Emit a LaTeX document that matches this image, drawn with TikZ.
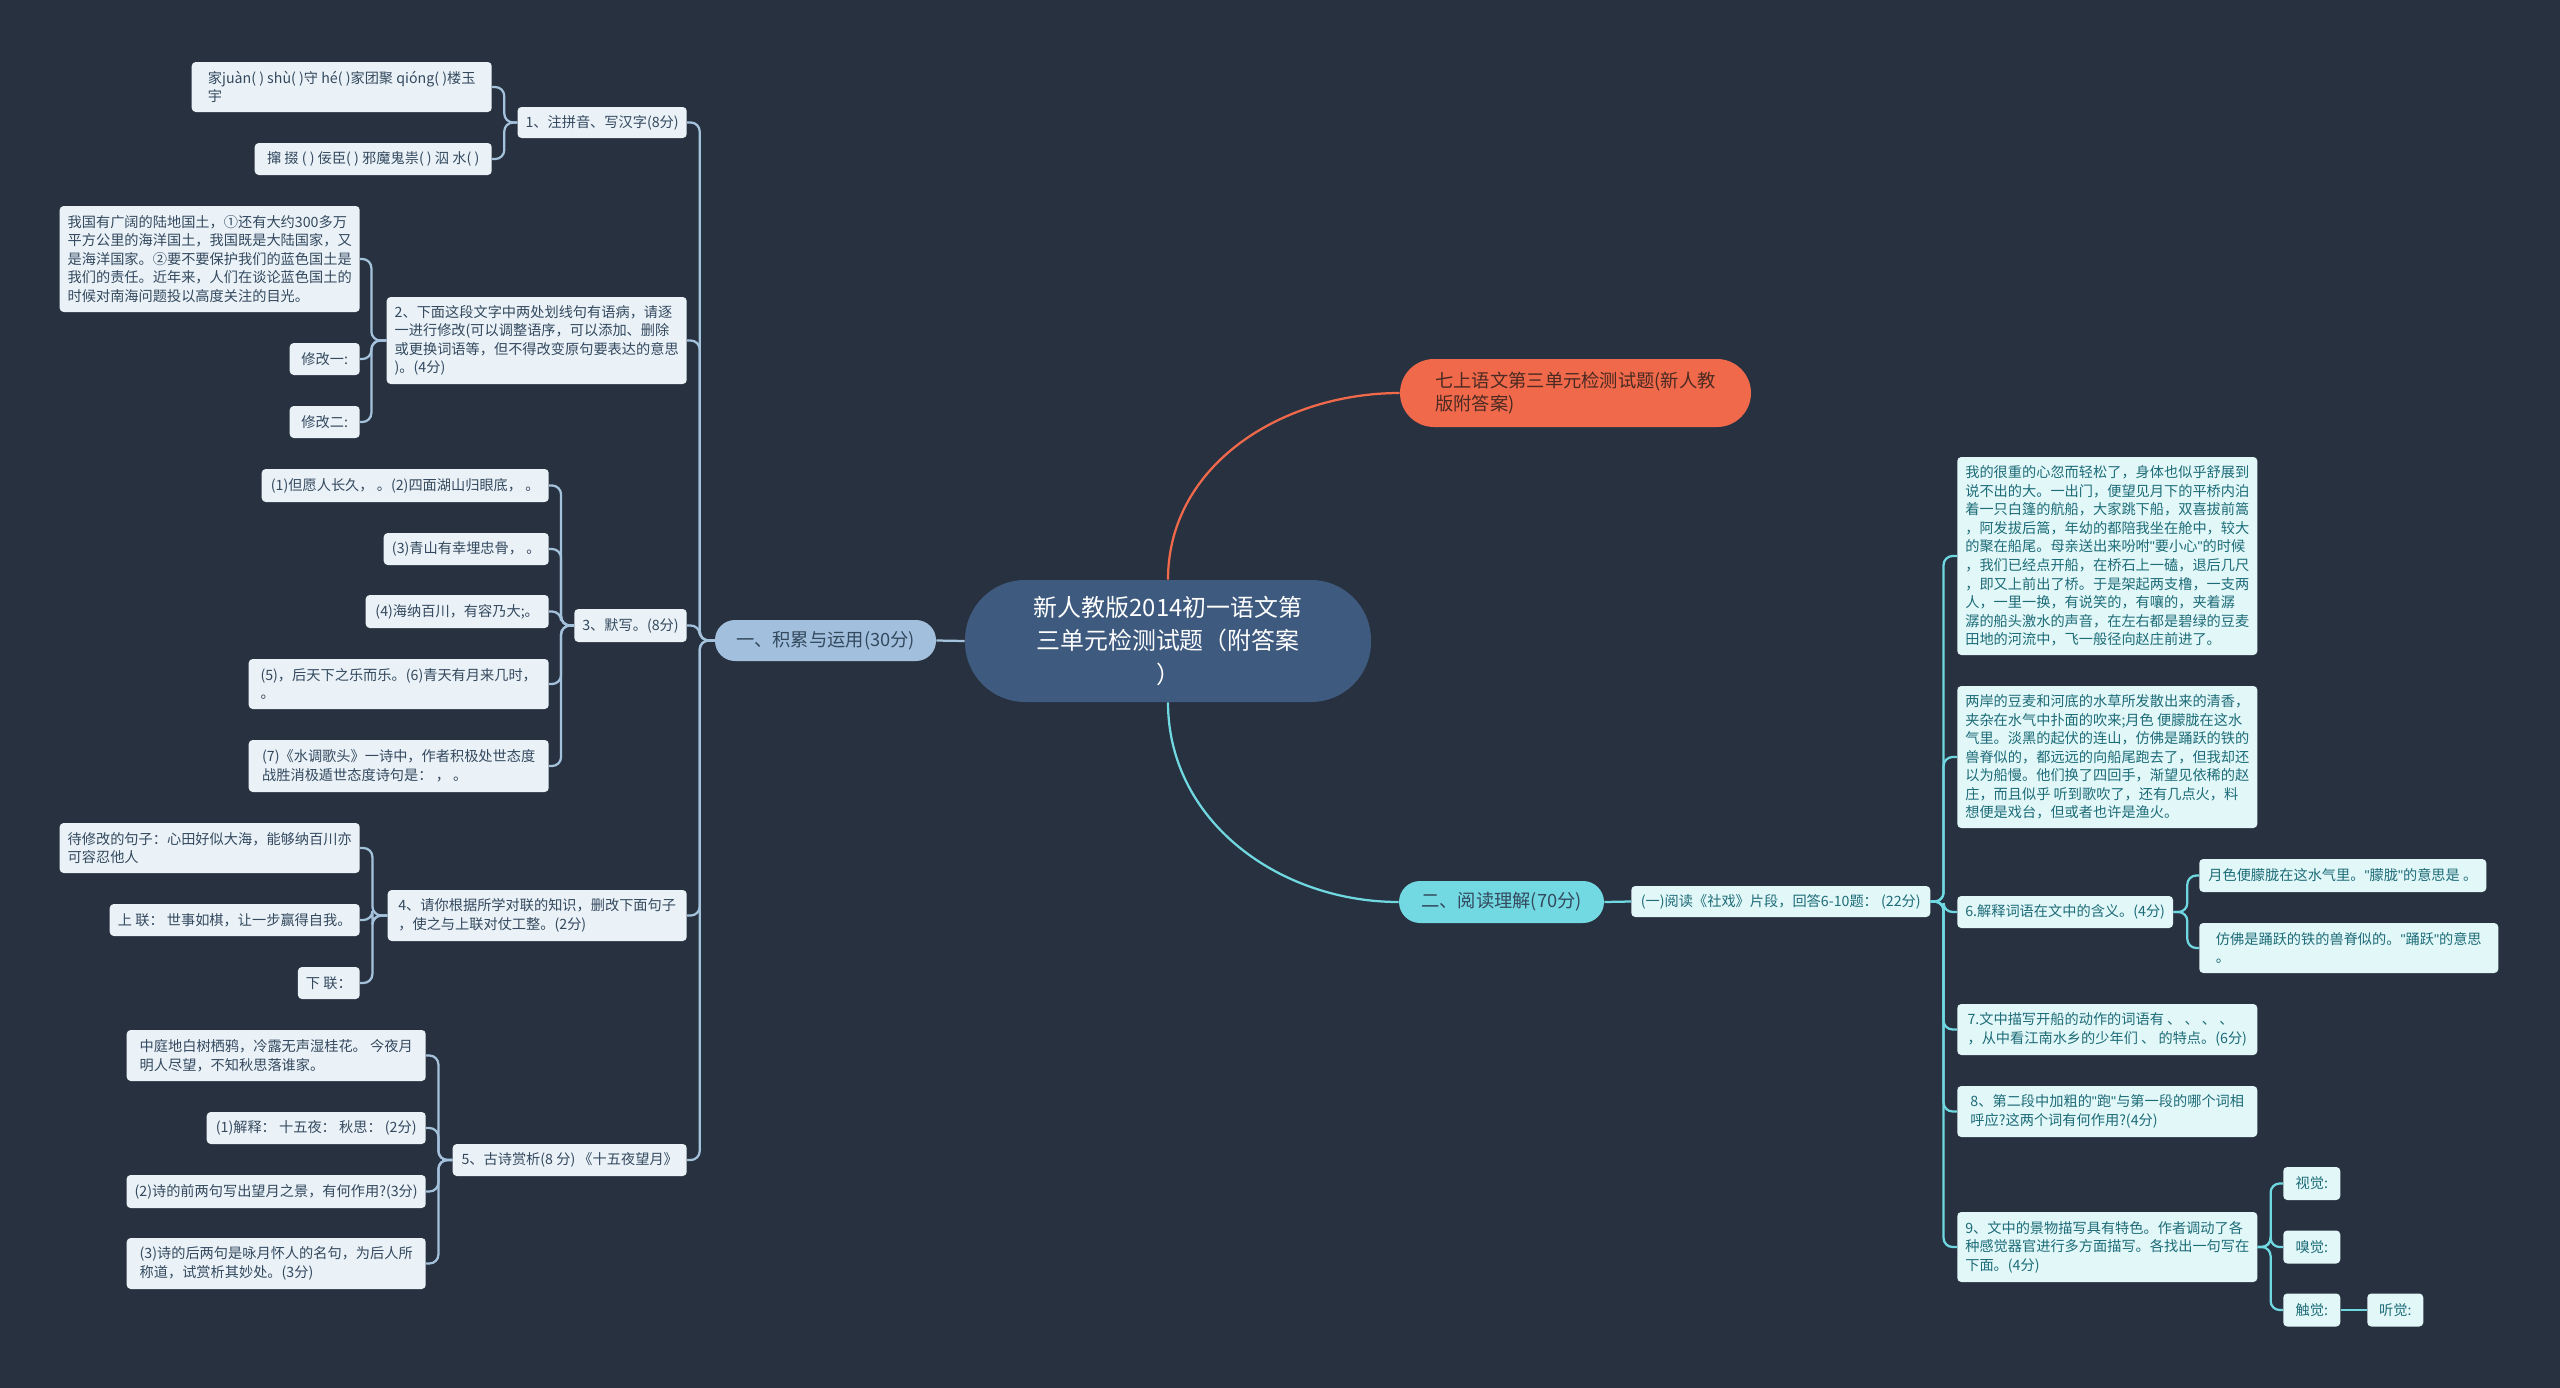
\documentclass[tikz,border=0pt]{standalone}
\usepackage{fontspec}
\setmainfont{Noto Sans CJK SC}
\newfontfamily\quotefont{Liberation Sans}
\newcommand\dq{{\quotefont"}}

\definecolor{bgcol}{HTML}{283140}
\definecolor{lfill}{HTML}{EAF2F8}
\definecolor{ltext}{HTML}{34495E}
\definecolor{lline}{HTML}{A4C2DC}
\definecolor{rfill}{HTML}{E2F7F8}
\definecolor{rtext}{HTML}{1D6C78}
\definecolor{rline}{HTML}{6FD8E0}
\definecolor{rootfill}{HTML}{3E5A7F}
\definecolor{orangefill}{HTML}{F0694A}
\definecolor{orangetext}{HTML}{4A2A22}
\definecolor{bonefill}{HTML}{A2C0DD}
\definecolor{btwofill}{HTML}{72D9E2}

\newdimen\pxu \pxu=0.025cm

\begin{document}
\begin{tikzpicture}[x=0.025cm, y=-0.025cm,
    leaf/.style={fill=lfill, text=ltext, rounded corners=4\pxu, inner xsep=8\pxu, inner ysep=3\pxu, align=left, font=\fontsize{10.1}{13.2}\selectfont},
    lleaf/.style={leaf, anchor=east},
    rleaf/.style={leaf, fill=rfill, text=rtext, anchor=west},
    pill/.style={inner xsep=10\pxu, inner ysep=3\pxu, align=left, font=\fontsize{13}{17}\selectfont},
    llink/.style={draw=lline, line width=1.6pt, rounded corners=9\pxu},
    rlink/.style={draw=rline, line width=1.6pt, rounded corners=9\pxu}
]
\fill[bgcol] (0,0) rectangle (2560,1388);
\useasboundingbox (0,0) rectangle (2560,1388);

% Root and main branches
\node[fill=rootfill, text=white, rounded corners=60\pxu, minimum width=406\pxu, minimum height=122\pxu, align=center, font=\fontsize{17}{23.5}\selectfont] (root) at (1168,641) {新人教版2014初一语文第\\三单元检测试题（附答案\\）};
\node[pill, fill=orangefill, text=orangetext, rounded corners=34\pxu, minimum width=351\pxu, minimum height=68\pxu] (title) at (1575.5,393) {七上语文第三单元检测试题(新人教\\版附答案)};
\node[pill, fill=bonefill, text=ltext, rounded corners=20\pxu, minimum width=221\pxu, minimum height=41\pxu] (b1) at (825.5,640.5) {一、积累与运用(30分)};
\node[pill, fill=btwofill, text=ltext, rounded corners=21\pxu, minimum width=205\pxu, minimum height=42\pxu] (b2) at (1501.5,902) {二、阅读理解(70分)};

% Left side: questions 1-5
\node[lleaf, minimum width=169\pxu, minimum height=31\pxu] (q1) at (687,122.5) {1、注拼音、写汉字(8分)};
\node[lleaf, minimum width=300\pxu, minimum height=50\pxu] (q1a) at (492,87) {家juàn( ) shù( )守 hé( )家团聚 qióng( )楼玉\\宇};
\node[lleaf, minimum width=237\pxu, minimum height=32\pxu] (q1b) at (492,159) {撺 掇 ( ) 佞臣( ) 邪魔鬼祟( ) 泅 水( )};

\node[lleaf, minimum width=299\pxu, minimum height=87\pxu] (q2) at (687,340.5) {2、下面这段文字中两处划线句有语病，请逐\\一进行修改(可以调整语序，可以添加、删除\\或更换词语等，但不得改变原句要表达的意思\\)。(4分)};
\node[lleaf, minimum width=298\pxu, minimum height=106\pxu] (q2a) at (360,259) {我国有广阔的陆地国土，①还有大约300多万\\平方公里的海洋国土，我国既是大陆国家，又\\是海洋国家。②要不要保护我们的蓝色国土是\\我们的责任。近年来，人们在谈论蓝色国土的\\时候对南海问题投以高度关注的目光。};
\node[lleaf, minimum width=70\pxu, minimum height=32\pxu] (q2b) at (360,359) {修改一:};
\node[lleaf, minimum width=70\pxu, minimum height=32\pxu] (q2c) at (360,422) {修改二:};

\node[lleaf, minimum width=112\pxu, minimum height=33\pxu] (q3) at (687,625.5) {3、默写。(8分)};
\node[lleaf, minimum width=287\pxu, minimum height=33\pxu] (q3a) at (549,485.5) {(1)但愿人长久， 。(2)四面湖山归眼底， 。};
\node[lleaf, minimum width=165\pxu, minimum height=32\pxu] (q3b) at (549,549) {(3)青山有幸埋忠骨， 。};
\node[lleaf, minimum width=183\pxu, minimum height=33\pxu] (q3c) at (549,611.5) {(4)海纳百川，有容乃大;。};
\node[lleaf, minimum width=300\pxu, minimum height=50\pxu] (q3d) at (549,684) {(5)，后天下之乐而乐。(6)青天有月来几时，\\。};
\node[lleaf, minimum width=300\pxu, minimum height=52\pxu] (q3e) at (549,766) {(7)《水调歌头》一诗中，作者积极处世态度\\战胜消极遁世态度诗句是： ， 。};

\node[lleaf, minimum width=299\pxu, minimum height=51\pxu] (q4) at (687,915.5) {4、请你根据所学对联的知识，删改下面句子\\，使之与上联对仗工整。(2分)};
\node[lleaf, minimum width=298\pxu, minimum height=50\pxu] (q4a) at (360,848) {待修改的句子：心田好似大海，能够纳百川亦\\可容忍他人};
\node[lleaf, minimum width=250\pxu, minimum height=32\pxu] (q4b) at (360,920) {上 联： 世事如棋，让一步赢得自我。};
\node[lleaf, minimum width=60\pxu, minimum height=32\pxu] (q4c) at (360,983) {下 联：};

\node[lleaf, minimum width=234\pxu, minimum height=32\pxu] (q5) at (687,1160) {5、古诗赏析(8 分) 《十五夜望月》};
\node[lleaf, minimum width=299\pxu, minimum height=51\pxu] (q5a) at (426,1055.5) {中庭地白树栖鸦，冷露无声湿桂花。 今夜月\\明人尽望，不知秋思落谁家。};
\node[lleaf, minimum width=219\pxu, minimum height=32\pxu] (q5b) at (426,1128) {(1)解释： 十五夜： 秋思： (2分)};
\node[lleaf, minimum width=299\pxu, minimum height=33\pxu] (q5c) at (426,1191.5) {(2)诗的前两句写出望月之景，有何作用?(3分)};
\node[lleaf, minimum width=299\pxu, minimum height=51\pxu] (q5d) at (426,1263.5) {(3)诗的后两句是咏月怀人的名句，为后人所\\称道，试赏析其妙处。(3分)};

% Right side: reading part
\node[rleaf, minimum width=299\pxu, minimum height=31\pxu] (r0) at (1631,901.5) {(一)阅读《社戏》片段，回答6-10题： (22分)};
\node[rleaf, minimum width=300\pxu, minimum height=198\pxu] (p1) at (1957,556) {我的很重的心忽而轻松了，身体也似乎舒展到\\说不出的大。一出门，便望见月下的平桥内泊\\着一只白篷的航船，大家跳下船，双喜拔前篙\\，阿发拔后篙，年幼的都陪我坐在舱中，较大\\的聚在船尾。母亲送出来吩咐\dq 要小心\dq 的时候\\，我们已经点开船，在桥石上一磕，退后几尺\\，即又上前出了桥。于是架起两支橹，一支两\\人，一里一换，有说笑的，有嚷的，夹着潺\\潺的船头激水的声音，在左右都是碧绿的豆麦\\田地的河流中，飞一般径向赵庄前进了。};
\node[rleaf, minimum width=300\pxu, minimum height=142\pxu] (p2) at (1957,757) {两岸的豆麦和河底的水草所发散出来的清香，\\夹杂在水气中扑面的吹来;月色 便朦胧在这水\\气里。淡黑的起伏的连山，仿佛是踊跃的铁的\\兽脊似的，都远远的向船尾跑去了，但我却还\\以为船慢。他们换了四回手，渐望见依稀的赵\\庄，而且似乎 听到歌吹了，还有几点火，料\\想便是戏台，但或者也许是渔火。};
\node[rleaf, minimum width=215\pxu, minimum height=32\pxu] (r6) at (1957,912) {6.解释词语在文中的含义。(4分)};
\node[rleaf, minimum width=287\pxu, minimum height=33\pxu] (r6a) at (2199,875.5) {月色便朦胧在这水气里。\dq 朦胧\dq 的意思是 。};
\node[rleaf, minimum width=299\pxu, minimum height=50\pxu] (r6b) at (2199,948) {仿佛是踊跃的铁的兽脊似的。\dq 踊跃\dq 的意思\\。};
\node[rleaf, minimum width=300\pxu, minimum height=51\pxu] (r7) at (1957,1029.5) {7.文中描写开船的动作的词语有 、 、 、 、\\，从中看江南水乡的少年们 、 的特点。(6分)};
\node[rleaf, minimum width=300\pxu, minimum height=51\pxu] (r8) at (1957,1111.5) {8、第二段中加粗的\dq 跑\dq 与第一段的哪个词相\\呼应?这两个词有何作用?(4分)};
\node[rleaf, minimum width=300\pxu, minimum height=70\pxu] (r9) at (1957,1247) {9、文中的景物描写具有特色。作者调动了各\\种感觉器官进行多方面描写。各找出一句写在\\下面。(4分)};
\node[rleaf, minimum width=57\pxu, minimum height=33\pxu] (r9a) at (2283,1183.5) {视觉:};
\node[rleaf, minimum width=57\pxu, minimum height=33\pxu] (r9b) at (2283,1247) {嗅觉:};
\node[rleaf, minimum width=57\pxu, minimum height=33\pxu] (r9c) at (2283,1310) {触觉:};
\node[rleaf, minimum width=56\pxu, minimum height=33\pxu] (r9d) at (2367,1310) {听觉:};

% Connectors
\draw[draw=orangefill, line width=1.6pt] (root.north) to[out=90, in=180] (title.west);
\draw[lline, line width=1.6pt] (root.west) -- (b1.east);
\draw[rline, line width=1.6pt] (root.south) to[out=-90, in=180] (b2.west);
\draw[rlink] (b2.east) -- (r0.west);

\foreach \n in {q1,q2,q3,q4,q5}
  \draw[llink] (b1.west) -- ++(-15,0) |- (\n.east);
\foreach \n in {q1a,q1b}
  \draw[llink] (q1.west) -- ++(-13,0) |- (\n.east);
\foreach \n in {q2a,q2b,q2c}
  \draw[llink] (q2.west) -- ++(-15,0) |- (\n.east);
\foreach \n in {q3a,q3b,q3c,q3d,q3e}
  \draw[llink] (q3.west) -- ++(-13,0) |- (\n.east);
\foreach \n in {q4a,q4b,q4c}
  \draw[llink] (q4.west) -- ++(-15,0) |- (\n.east);
\foreach \n in {q5a,q5b,q5c,q5d}
  \draw[llink] (q5.west) -- ++(-14,0) |- (\n.east);

\foreach \n in {p1,p2,r6,r7,r8,r9}
  \draw[rlink] (r0.east) -- ++(13,0) |- (\n.west);
\foreach \n in {r6a,r6b}
  \draw[rlink] (r6.east) -- ++(14,0) |- (\n.west);
\foreach \n in {r9a,r9b,r9c}
  \draw[rlink] (r9.east) -- ++(13,0) |- (\n.west);
\draw[rlink] (r9c.east) -- (r9d.west);
\end{tikzpicture}
\end{document}
